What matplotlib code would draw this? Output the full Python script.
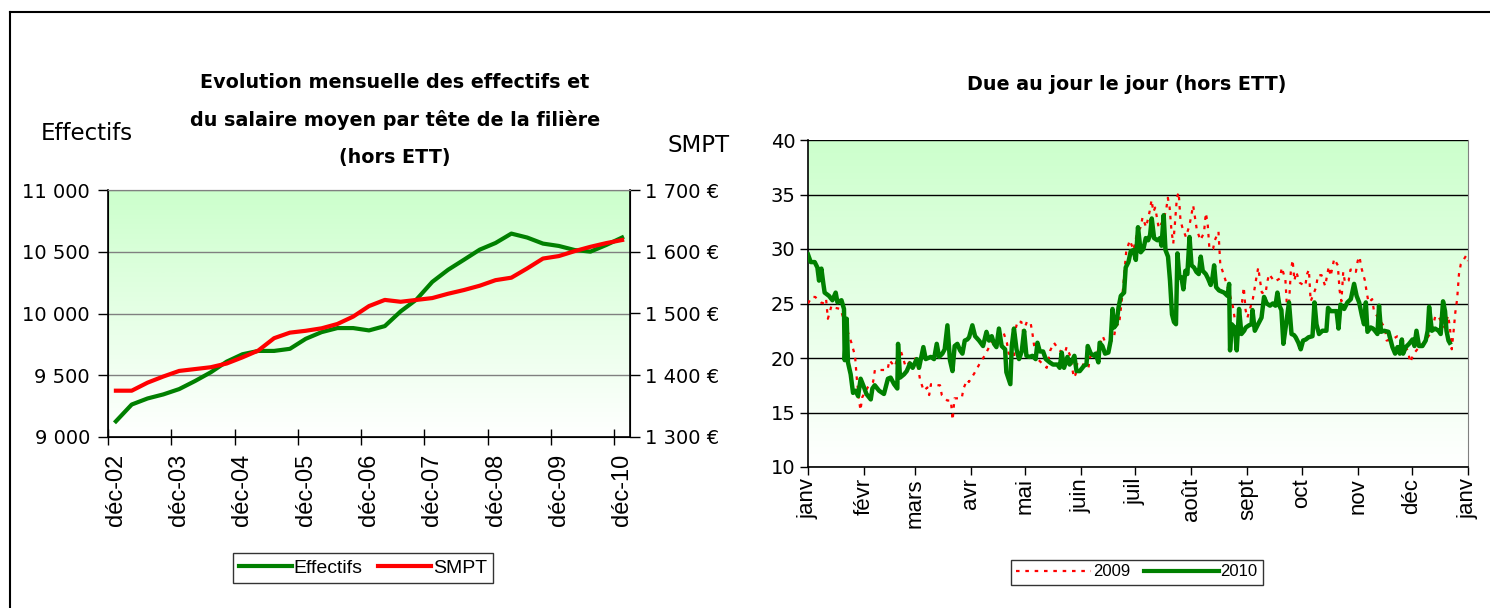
import numpy as np
import matplotlib
matplotlib.use("Agg")
import matplotlib.pyplot as plt
from matplotlib.colors import LinearSegmentedColormap
from matplotlib.lines import Line2D

# --- left chart: quarterly values, dec-02 .. dec-10
effectifs = [9127, 9263, 9312, 9345, 9388, 9453, 9524, 9610, 9670, 9697, 9697,
             9714, 9795, 9849, 9882, 9882, 9863, 9898, 10017, 10113, 10256,
             10354, 10435, 10517, 10571, 10647, 10615, 10566, 10547, 10514,
             10501, 10555, 10615]
smpt = [1375, 1375, 1388, 1398, 1407, 1410, 1413, 1419, 1429, 1440, 1460,
        1469, 1472, 1476, 1483, 1495, 1512, 1522, 1519, 1522, 1525, 1532,
        1538, 1545, 1554, 1558, 1573, 1589, 1593, 1601, 1608, 1614, 1619]
years_lbl = ["déc-02", "déc-03", "déc-04", "déc-05", "déc-06", "déc-07",
             "déc-08", "déc-09", "déc-10"]

# --- right chart: day of year / value
days_2010 = [0, 1.5, 3.7, 5.2, 6.1, 7.4, 8.5, 9.2, 11.6, 13.5,
             15.3, 16.3, 18.5, 19.9, 20.3, 21.4, 22.1, 23.6, 24.9, 26.4,
             27.7, 29.1, 31, 32.3, 34.7, 35.6, 36.9, 39.3, 42, 44.2,
             45.7, 47.6, 49.4, 49.8, 50.9, 53.1, 54.6, 56.4, 57.9, 60.1,
             61.4, 63.8, 65.1, 67.9, 69.7, 71.2, 72.5, 74.3, 75.6, 77.1,
             78.5, 79.9, 81.1, 82.6, 84.1, 85.4, 86.7, 88.1, 89.1, 90.9,
             92.4, 94.6, 96.8, 98.7, 100.1, 101.6, 102.9, 104.2, 105.6, 107.1,
             109, 109.7, 111.9, 112.7, 113.9, 115.3, 116.7, 118.2, 119.5, 120.8,
             122.6, 124.1, 125.9, 126.9, 128.2, 130, 131.5, 133.7, 135.5, 137.9,
             139.2, 140.3, 141.6, 143.5, 144.7, 146.2, 147.3, 148.5, 150.3, 152.7,
             154, 154.7, 156.4, 158.2, 159.1, 160.6, 161.3, 162.8, 164.3, 166.1,
             167.4, 168.4, 169.3, 170.6, 171.7, 173, 174.8, 175.7, 177.2, 178.5,
             180, 181.3, 182.5, 184, 185.5, 186.8, 188.1, 189.2, 190.1, 191.4,
             193.2, 194.7, 195.5, 196.7, 197.7, 199.1, 200.2, 201.3, 202.4, 203.5,
             204.3, 205.4, 206.5, 207.6, 208.7, 209.8, 211, 212.1, 213.5, 214.8,
             216.1, 217.2, 218.3, 220, 221.2, 222.7, 223.7, 224.6, 225.7, 227.3,
             230.1, 232, 232.9, 233.4, 234.3, 236, 237.1, 238.4, 239.7, 241.2,
             242.1, 243.9, 245.3, 245.8, 247.1, 248.6, 250.8, 252.2, 253.7, 255.5,
             257, 258.5, 259.6, 260.7, 261.8, 262.9, 264.4, 266, 267.4, 268.8,
             269.7, 271.2, 272.5, 273.8, 275.3, 276.8, 279, 280.1, 281.2, 282.6,
             284.5, 286.7, 287.6, 289.1, 290.9, 292.3, 293.4, 294.5, 296.5, 298.3,
             300.2, 302, 303.4, 304.8, 306.3, 307.5, 308.5, 309.4, 311.2, 312.5,
             314, 314.9, 315.8, 316.9, 318.6, 321, 323.2, 324.7, 326, 327.3,
             328.4, 329.1, 330.6, 332.4, 334.3, 335.4, 336.5, 337.9, 339.8, 341.6,
             342.7, 343.5, 345, 346.8, 348.7, 349.9, 351.2, 352.3, 353.1, 354.2,
             354.9]
vals_2010 = [29.5, 28.8, 28.8, 28.3, 27.1, 28.2, 26.8, 26.0, 25.7, 25.3,
             26.0, 25.1, 25.3, 24.5, 19.8, 23.6, 19.6, 18.5, 16.8, 17.0,
             16.5, 18.1, 17.3, 16.7, 16.2, 17.2, 17.5, 17.0, 16.7, 18.1,
             18.2, 17.6, 17.2, 21.3, 18.2, 18.5, 18.8, 19.5, 19.1, 19.9,
             19.1, 21.0, 19.9, 20.1, 19.9, 21.3, 20.1, 20.4, 20.8, 23.0,
             19.8, 18.8, 21.1, 21.3, 20.7, 20.4, 21.6, 21.7, 21.9, 23.0,
             22.0, 21.6, 21.1, 22.4, 21.6, 22.0, 21.3, 21.0, 22.7, 21.1,
             20.8, 18.7, 17.6, 21.1, 22.7, 20.8, 19.9, 20.6, 22.5, 20.2,
             20.1, 20.2, 19.9, 21.4, 20.6, 20.6, 19.9, 19.6, 19.4, 19.4,
             19.1, 20.5, 19.1, 20.1, 19.4, 19.8, 20.2, 18.8, 18.8, 19.3,
             19.4, 21.1, 20.4, 20.2, 20.4, 19.6, 21.4, 21.1, 20.4, 20.5,
             21.6, 24.5, 22.8, 23.1, 24.6, 25.7, 26.0, 28.3, 28.8, 29.8,
             29.9, 29.0, 32.0, 29.7, 30.0, 31.0, 30.8, 31.3, 32.8, 31.0,
             30.8, 31.0, 30.3, 33.1, 29.9, 29.3, 27.1, 24.0, 23.3, 23.1,
             29.6, 27.4, 27.4, 26.3, 28.0, 27.7, 31.1, 28.5, 28.3, 27.9,
             27.7, 29.3, 28.0, 27.7, 27.3, 26.7, 27.4, 28.5, 26.5, 26.2,
             26.0, 25.7, 26.8, 20.7, 23.1, 22.8, 20.7, 24.5, 22.2, 22.5,
             22.8, 23.0, 23.1, 24.4, 22.5, 23.0, 23.7, 25.6, 25.0, 24.8,
             25.0, 24.8, 26.0, 24.8, 24.4, 21.3, 23.1, 25.1, 22.2, 22.1,
             21.9, 21.4, 20.8, 21.6, 21.7, 21.9, 22.0, 25.1, 23.1, 22.2,
             22.5, 22.5, 24.6, 24.3, 24.3, 24.3, 22.7, 24.9, 24.5, 25.1,
             25.4, 26.8, 25.7, 25.1, 23.9, 23.1, 25.1, 22.4, 22.8, 22.7,
             22.4, 22.2, 24.8, 22.4, 22.5, 22.4, 21.0, 20.4, 21.0, 20.4,
             21.7, 20.4, 21.0, 21.3, 21.7, 21.1, 22.5, 21.1, 21.1, 21.6,
             22.5, 24.7, 22.5, 22.7, 22.5, 22.2, 25.2, 24.3, 22.5, 21.6,
             21.4]

days_2009 = [0, 2, 4, 7, 9, 10, 11, 13, 15, 18,
             20, 24, 26, 27, 28, 29, 30, 33, 36, 37,
             42, 44, 45, 48, 51, 52, 54, 56, 58, 60,
             62, 64, 66, 67, 68, 72, 73, 74, 77, 79,
             80, 81, 85, 86, 88, 89, 92, 95, 98, 102,
             105, 108, 110, 111, 114, 115, 116, 118, 119, 121,
             123, 124, 125, 127, 132, 134, 136, 139, 142, 143,
             145, 147, 148, 149, 152, 155, 156, 160, 163, 164,
             166, 169, 170, 171, 172, 174, 176, 178, 180, 182,
             184, 185, 187, 189, 190, 191, 192, 194, 196, 198,
             199, 200, 201, 202, 203, 204, 205, 206, 207, 209,
             211, 213, 214, 215, 217, 219, 220, 221, 222, 224,
             225, 227, 228, 230, 233, 235, 236, 238, 239, 240,
             241, 242, 243, 246, 248, 249, 250, 251, 253, 254,
             255, 258, 261, 262, 264, 265, 266, 267, 268, 269,
             270, 272, 275, 276, 277, 278, 281, 282, 284, 286,
             288, 289, 291, 293, 294, 295, 296, 297, 299, 300,
             302, 303, 304, 305, 306, 308, 309, 310, 312, 313,
             316, 319, 320, 323, 326, 328, 332, 333, 335, 337,
             341, 344, 346, 347, 349, 352, 354, 355, 356, 357,
             358, 359, 360, 361, 364, 365]
vals_2009 = [25.0, 25.6, 25.6, 25.1, 25.0, 25.4, 23.6, 24.8, 24.6, 24.5,
             23.4, 21.4, 20.2, 18.1, 16.5, 15.2, 16.4, 17.3, 17.8, 18.9,
             18.9, 18.9, 19.8, 19.2, 20.8, 20.3, 19.2, 19.6, 20.0, 19.9,
             18.0, 17.0, 17.3, 16.6, 17.6, 17.5, 17.5, 16.6, 16.1, 16.1,
             14.3, 16.3, 16.3, 17.2, 18.0, 17.8, 18.6, 19.5, 20.3, 21.6,
             22.2, 22.4, 21.4, 20.4, 20.1, 22.8, 23.4, 23.3, 22.4, 23.3,
             23.3, 22.4, 21.2, 19.9, 19.1, 20.7, 21.4, 20.7, 20.4, 21.0,
             20.2, 18.2, 18.5, 19.6, 19.4, 19.0, 20.1, 20.5, 22.0, 21.6,
             21.4, 21.7, 22.7, 23.1, 23.0, 26.0, 29.8, 30.8, 29.9, 31.5,
             32.0, 32.9, 32.0, 33.5, 34.5, 33.4, 33.8, 31.9, 32.5, 33.5,
             34.7, 33.8, 31.7, 30.5, 32.5, 34.7, 35.2, 32.6, 32.0, 31.1,
             32.2, 34.0, 32.9, 31.8, 30.8, 31.5, 33.3, 32.4, 30.0, 30.0,
             30.8, 31.6, 28.6, 27.6, 26.0, 24.7, 23.6, 23.4, 24.7, 25.1,
             26.5, 24.4, 23.7, 25.4, 27.4, 28.3, 27.1, 26.0, 25.9, 27.0,
             27.7, 27.0, 27.3, 28.3, 27.2, 24.4, 25.0, 27.9, 29.0, 27.1,
             27.9, 26.9, 26.6, 27.7, 28.1, 25.2, 26.5, 27.6, 27.6, 26.6,
             28.4, 27.5, 29.1, 28.5, 26.2, 25.2, 27.9, 26.9, 27.1, 28.1,
             28.2, 27.9, 28.9, 29.3, 28.3, 27.1, 26.0, 25.1, 25.4, 24.3,
             23.5, 22.8, 21.6, 21.7, 22.0, 22.0, 20.5, 19.6, 20.4, 20.8,
             21.5, 22.2, 23.2, 23.9, 23.7, 22.8, 23.9, 22.8, 20.8, 22.4,
             24.2, 25.4, 27.7, 28.6, 29.4, 28.9]
month_days = [0, 31, 59, 90, 120, 151, 181, 212, 243, 273, 304, 334, 365]
month_lbl = ["janv", "févr", "mars", "avr", "mai", "juin", "juil", "août",
             "sept", "oct", "nov", "déc", "janv"]

W, H = 1490, 608
fig = plt.figure(figsize=(W / 100, H / 100), dpi=100)

def fx(px):
    return px / W

def fy(py):
    return 1 - py / H

# outer frame (only top and left visible)
fig.add_artist(Line2D([fx(10), 1], [fy(12), fy(12)], color="black", lw=1.5))
fig.add_artist(Line2D([fx(10), fx(10)], [0, fy(12)], color="black", lw=1.5))

bg = LinearSegmentedColormap.from_list("bg", ["#ffffff", "#ccffcc"])
grad = np.linspace(0, 1, 256).reshape(-1, 1)
tick_font = "DejaVu Sans"
lbl_font = "Liberation Sans"

# ---------------- left chart ----------------
ax1 = fig.add_axes([fx(108), fy(437), fx(630) - fx(108), fy(190) - fy(437)])
ax1.imshow(grad, extent=[0, 1, 0, 1], transform=ax1.transAxes, origin="lower",
           aspect="auto", cmap=bg, zorder=0)
x = np.arange(len(effectifs))
ax1.plot(x, effectifs, color="#008000", lw=3, zorder=3)
ax1.set_xlim(-0.5, 32.5)
ax1.set_ylim(9000, 11000)
ax1.set_yticks([9000, 9500, 10000, 10500, 11000])
ax1.set_yticklabels(["9 000", "9 500", "10 000", "10 500", "11 000"],
                    family=tick_font, fontsize=14)
ax1.grid(axis="y", color="#808080", lw=1)
ax1.set_axisbelow(True)
ax1.set_xticks(np.arange(-0.5, 32, 4))
ax1.set_xticklabels([])
ax1.set_xticks(np.arange(0, 33, 4), minor=True)
ax1.set_xticklabels(years_lbl, minor=True, rotation=90, family=lbl_font,
                    fontsize=17)
ax1.tick_params(axis="x", which="major", direction="inout", length=12, width=1)
ax1.tick_params(axis="x", which="minor", length=0, pad=12)
ax1.tick_params(axis="y", direction="out", length=7, width=1, pad=6)
ax1.spines["top"].set_color("#808080")
for s in ["left", "bottom"]:
    ax1.spines[s].set_linewidth(1.2)

ax2 = ax1.twinx()
ax2.plot(x, smpt, color="#ff0000", lw=3, zorder=3)
ax2.set_ylim(1300, 1700)
ax2.set_yticks([1300, 1400, 1500, 1600, 1700])
ax2.set_yticklabels(["1 300 €", "1 400 €", "1 500 €", "1 600 €", "1 700 €"],
                    family=tick_font, fontsize=14)
ax2.tick_params(axis="y", direction="out", length=7, width=1, pad=4)
ax2.spines["top"].set_color("#808080")
ax2.spines["right"].set_linewidth(1.2)

title_kw = dict(ha="center", va="center", fontsize=13.8, fontweight="bold",
                family=tick_font)
fig.text(fx(395), fy(82), "Evolution mensuelle des effectifs et", **title_kw)
fig.text(fx(395), fy(120), "du salaire moyen par tête de la filière",
         **title_kw)
fig.text(fx(395), fy(157), "(hors ETT)", **title_kw)
fig.text(fx(87), fy(133), "Effectifs", ha="center", va="center",
         fontsize=16.5, family=tick_font)
fig.text(fx(699), fy(145), "SMPT", ha="center", va="center", fontsize=16.5,
         family=tick_font)

leg1 = fig.legend([Line2D([], [], color="#008000", lw=3),
                   Line2D([], [], color="#ff0000", lw=3)],
                  ["Effectifs", "SMPT"], loc="center",
                  bbox_to_anchor=(fx(363), fy(568)), ncol=2, frameon=True,
                  fancybox=False, edgecolor="black", handlelength=2.7,
                  handletextpad=0.1, columnspacing=0.8, borderpad=0.3,
                  prop={"family": lbl_font, "size": 14})
leg1.get_frame().set_linewidth(1)

# ---------------- right chart ----------------
ax3 = fig.add_axes([fx(808), fy(467), fx(1468) - fx(808), fy(140) - fy(467)])
ax3.imshow(grad, extent=[0, 1, 0, 1], transform=ax3.transAxes, origin="lower",
           aspect="auto", cmap=bg, zorder=0)
ax3.plot(days_2009, vals_2009, color="#ff0000", lw=1.6,
         linestyle=(0, (1.6, 2.6)), zorder=3)
ax3.plot(days_2010, vals_2010, color="#008000", lw=3.2, zorder=4)
ax3.set_xlim(0, 365)
ax3.set_ylim(10, 40)
ax3.set_yticks(range(10, 41, 5))
ax3.set_yticklabels([str(v) for v in range(10, 41, 5)], family=tick_font,
                    fontsize=14)
ax3.grid(axis="y", color="black", lw=1)
ax3.set_axisbelow(True)
ax3.set_xticks(month_days)
ax3.set_xticklabels(month_lbl, rotation=90, family=lbl_font, fontsize=16)
ax3.tick_params(axis="x", direction="out", length=6, width=1, pad=2)
ax3.tick_params(axis="y", direction="out", length=6, width=1, pad=3)
ax3.spines["top"].set_visible(False)
ax3.spines["right"].set_color("#808080")
for s in ["left", "bottom"]:
    ax3.spines[s].set_linewidth(1.2)

fig.text(fx(1127), fy(84), "Due au jour le jour (hors ETT)", **title_kw)

leg2 = fig.legend([Line2D([], [], color="#ff0000", lw=1.6,
                          linestyle=(0, (1.6, 2.6))),
                   Line2D([], [], color="#008000", lw=3)],
                  ["2009", "2010"], loc="center",
                  bbox_to_anchor=(fx(1137), fy(572)), ncol=2, frameon=True,
                  fancybox=False, edgecolor="black", handlelength=4.5,
                  handletextpad=0.1, columnspacing=0.8, borderpad=0.3,
                  prop={"family": lbl_font, "size": 12})
leg2.get_frame().set_linewidth(1)

fig.savefig("out.png", dpi=100)
